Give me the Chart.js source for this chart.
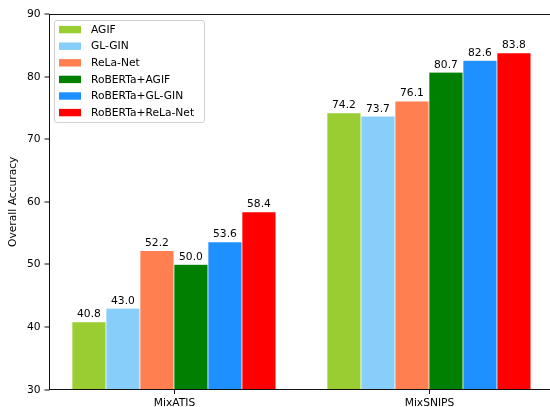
<!DOCTYPE html>
<html>
<head>
<meta charset="utf-8">
<script src="https://cdn.jsdelivr.net/npm/chart.js@4/dist/chart.umd.min.js"></script>
<style>
  html, body { margin: 0; padding: 0; width: 550px; height: 407px; overflow: hidden; background: #fff; }
  canvas { display: block; }
</style>
</head>
<body>
<canvas id="c" width="550" height="407"></canvas>
<script>
const categories = ['MixATIS', 'MixSNIPS'];
const seriesNames = ['AGIF', 'GL-GIN', 'ReLa-Net', 'RoBERTa+AGIF', 'RoBERTa+GL-GIN', 'RoBERTa+ReLa-Net'];
const agif = [40.8, 74.2];
const glGin = [43.0, 73.7];
const relaNet = [52.2, 76.1];
const robertaAgif = [50.0, 80.7];
const robertaGlGin = [53.6, 82.6];
const robertaRelaNet = [58.4, 83.8];
const yTicks = [30, 40, 50, 60, 70, 80, 90];
const seriesColors = ['#9ACD32', '#87CEFA', '#FF7F50', '#008000', '#1E90FF', '#FF0000'];

const seriesValues = [agif, glGin, relaNet, robertaAgif, robertaGlGin, robertaRelaNet];
const FONT = '10.7px "DejaVu Sans"';
const LINE = '#111';

const datasets = seriesValues.map((vals, i) => ({
  label: seriesNames[i],
  data: vals.map((v, j) => ({ x: j, y: v })),
  backgroundColor: seriesColors[i],
  borderColor: 'rgba(255,255,255,0.35)',
  borderWidth: 0.4,
  categoryPercentage: 0.8,
  barPercentage: 1.0
}));

const axesAndLabels = {
  id: 'axesAndLabels',
  afterDraw(chart) {
    const ctx = chart.ctx;
    const a = chart.chartArea;
    const xs = chart.scales.x, ys = chart.scales.y;
    ctx.save();
    ctx.beginPath();

    // keep the right edge clear (no right spine in the reference)
    ctx.fillStyle = '#fff';
    ctx.fillRect(a.right - 3, a.top + 1, 3, a.bottom - a.top - 1.5);

    ctx.font = FONT;
    ctx.fillStyle = '#000';

    // value labels above bars
    ctx.textAlign = 'center';
    ctx.textBaseline = 'alphabetic';
    chart.data.datasets.forEach((ds, di) => {
      chart.getDatasetMeta(di).data.forEach((el, j) => {
        ctx.fillText(seriesValues[di][j].toFixed(1), el.x, el.y - 4.5);
      });
    });

    // spines (left, bottom, top)
    ctx.strokeStyle = LINE;
    ctx.lineWidth = 1;
    ctx.beginPath();
    ctx.moveTo(a.left + 0.5, a.top);
    ctx.lineTo(a.left + 0.5, a.bottom);
    ctx.moveTo(a.left, a.bottom);
    ctx.lineTo(a.right, a.bottom);
    ctx.moveTo(a.left, a.top + 0.5);
    ctx.lineTo(a.right, a.top + 0.5);
    ctx.stroke();

    // y ticks + labels
    ctx.textAlign = 'right';
    ctx.textBaseline = 'middle';
    yTicks.forEach(v => {
      const py = Math.round(ys.getPixelForValue(v)) + 0.5;
      ctx.beginPath();
      ctx.moveTo(a.left - 4.5, py - 0.5);
      ctx.lineTo(a.left + 0.5, py - 0.5);
      ctx.stroke();
      ctx.fillText(String(v), a.left - 8.5, py);
    });

    // x ticks + labels
    ctx.textAlign = 'center';
    ctx.textBaseline = 'alphabetic';
    categories.forEach((c, i) => {
      const px = Math.round(xs.getPixelForValue(i)) + 0.5;
      ctx.beginPath();
      ctx.moveTo(px, a.bottom);
      ctx.lineTo(px, a.bottom + 4.5);
      ctx.stroke();
      ctx.fillText(c, px, 405.5);
    });

    // y title
    ctx.save();
    ctx.translate(13.5, (a.top + a.bottom) / 2);
    ctx.rotate(-Math.PI / 2);
    ctx.textAlign = 'center';
    ctx.textBaseline = 'middle';
    ctx.fillText('Overall Accuracy', 0, 0);
    ctx.restore();

    // legend
    const bx = 54.5, by = 20.5, bw = 150, bh = 102, r = 2.5;
    ctx.beginPath();
    ctx.moveTo(bx + r, by);
    ctx.lineTo(bx + bw - r, by);
    ctx.arcTo(bx + bw, by, bx + bw, by + r, r);
    ctx.lineTo(bx + bw, by + bh - r);
    ctx.arcTo(bx + bw, by + bh, bx + bw - r, by + bh, r);
    ctx.lineTo(bx + r, by + bh);
    ctx.arcTo(bx, by + bh, bx, by + bh - r, r);
    ctx.lineTo(bx, by + r);
    ctx.arcTo(bx, by, bx + r, by, r);
    ctx.closePath();
    ctx.fillStyle = 'rgba(255,255,255,0.8)';
    ctx.fill();
    ctx.strokeStyle = '#d0d0d0';
    ctx.stroke();
    ctx.beginPath();
    ctx.textAlign = 'left';
    ctx.textBaseline = 'middle';
    chart.data.datasets.forEach((ds, i) => {
      const cy = 29.6 + i * 16.6;
      ctx.fillStyle = ds.backgroundColor;
      ctx.fillRect(59, cy - 3.7, 22, 7.4);
      ctx.fillStyle = '#000';
      ctx.fillText(ds.label, 91, cy + 0.5);
    });
    ctx.restore();
  }
};

new Chart(document.getElementById('c'), {
  type: 'bar',
  data: { datasets },
  options: {
    responsive: false,
    animation: false,
    devicePixelRatio: 1,
    layout: { padding: { top: 14, right: 0, bottom: 0, left: 0 } },
    plugins: { legend: { display: false }, tooltip: { enabled: false } },
    scales: {
      x: {
        type: 'linear',
        min: -0.49,
        max: 1.4747,
        offset: false,
        bounds: 'data',
        grid: { display: false },
        border: { display: false },
        ticks: { display: false },
        afterBuildTicks(scale) { scale.ticks = categories.map((c, i) => ({ value: i })); },
        afterFit(scale) { scale.height = 17.5; }
      },
      y: {
        min: 30,
        max: 90,
        grid: { display: false },
        border: { display: false },
        ticks: { display: false },
        afterBuildTicks(scale) { scale.ticks = yTicks.map(v => ({ value: v })); },
        afterFit(scale) { scale.width = 49; }
      }
    }
  },
  plugins: [axesAndLabels]
});
</script>
</body>
</html>
